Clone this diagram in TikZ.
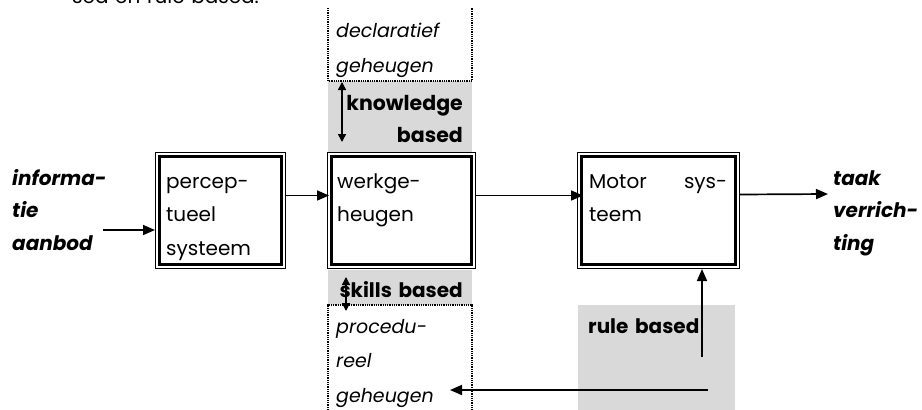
\documentclass[tikz,border=0pt]{standalone}
\usepackage{fontspec}
\setmainfont{Poppins}
\usetikzlibrary{arrows.meta,positioning,calc}
\definecolor{panelgray}{RGB}{217,217,217}

\begin{document}
\begin{tikzpicture}[x=1pt,y=-1pt,
  txt/.style={anchor=base west,inner sep=0pt,text width=#1,align=left,
    font=\fontsize{20}{33.5}\selectfont},
  box/.style={draw,line width=1pt,anchor=north west,inner sep=0pt,
    minimum height=116pt},
  panel/.style={fill=panelgray},
  dotline/.style={line width=1.5pt,dash pattern=on 1pt off 0.8pt},
  flow/.style={line width=1.7pt,-{Triangle[length=12pt,width=10pt]}},
  twoway/.style={line width=1.5pt,{Triangle[length=8pt,width=8pt]}-{Triangle[length=8pt,width=8pt]}}]
\useasboundingbox (0,0) rectangle (922,410);

% grijze vlakken
\fill[panel] (328,81) rectangle (472,152);
\fill[panel] (328,270) rectangle (472,305);
\fill[panel] (578,305) rectangle (735,410);

% geheugens
\draw[dotline] (328,8) -- (328,81) -- (472,81) -- (472,8);
\draw[dotline] (328,410) -- (328,305) -- (472,305) -- (472,410);

% blokken
\node[box,minimum width=130pt] (perc) at (155,152) {};
\node[box,minimum width=148pt] (werk) at (327,152) {};
\node[box,minimum width=162pt] (motor) at (577,152) {};
\foreach \b in {perc,werk,motor}
  \draw[line width=3pt] ([shift={(4.5pt,-4.5pt)}]\b.north west) rectangle ([shift={(-4.5pt,4.5pt)}]\b.south east);

% teksten
\node[txt=250pt] (intro) at (72,3) {sed en rule based.};
\node[txt=130pt,font=\fontsize{19}{34.5}\selectfont\itshape] (decl) at (336,37.5) {declaratief\\geheugen};
\node[txt=130pt,align=right,anchor=base east,font=\fontsize{20.5}{32}\selectfont\bfseries] (know) at (463,110) {knowledge\\based};
\node[txt=115pt] (perctxt) at (166,188) {percep-\\tueel\\systeem};
\node[txt=130pt] (werktxt) at (337,188) {werkge-\\heugen};
\node[txt=138pt] (mottxt) at (589,188) {\makebox[138pt]{Motor\hfill sys-}\\teem};
\node[txt=130pt,align=right,anchor=base east,font=\fontsize{20}{32}\selectfont\bfseries] (skill) at (463,297) {skills based};
\node[txt=130pt,font=\fontsize{19}{34.5}\selectfont\itshape] (proc) at (336,333) {procedu-\\reel\\geheugen};
\node[txt=150pt,font=\fontsize{20}{33}\selectfont\bfseries] (rule) at (588,333) {rule based};
\node[txt=100pt,font=\fontsize{20}{32.5}\selectfont\bfseries\itshape] (info) at (12,185) {informa-\\tie\\aanbod};
\node[txt=88pt,font=\fontsize{20}{32.5}\selectfont\bfseries\itshape] (taak) at (833,185) {taak\\verrich-\\ting};

% pijlen
\coordinate (infostart) at (103,230);
\coordinate (taakend) at (828,194);
\coordinate (ruleup) at (702,357);
\coordinate (ruleleft) at (708,390);
\coordinate (procend) at (450,390);
\draw[flow] (infostart) -- (infostart -| perc.west);
\draw[flow] ([yshift=15pt]perc.east) -- ([yshift=15pt,xshift=2pt]werk.west);
\draw[flow] ([yshift=15pt]werk.east) -- ([yshift=15pt,xshift=6pt]motor.west);
\draw[flow] ([yshift=16pt]motor.east) -- (taakend);
\draw[flow] (ruleup) -- (ruleup |- motor.south);
\draw[flow] (ruleleft) -- (procend);
\draw[twoway] (342,82) -- (342,142);
\draw[twoway] (346,277) -- (346,311);
\end{tikzpicture}
\end{document}
